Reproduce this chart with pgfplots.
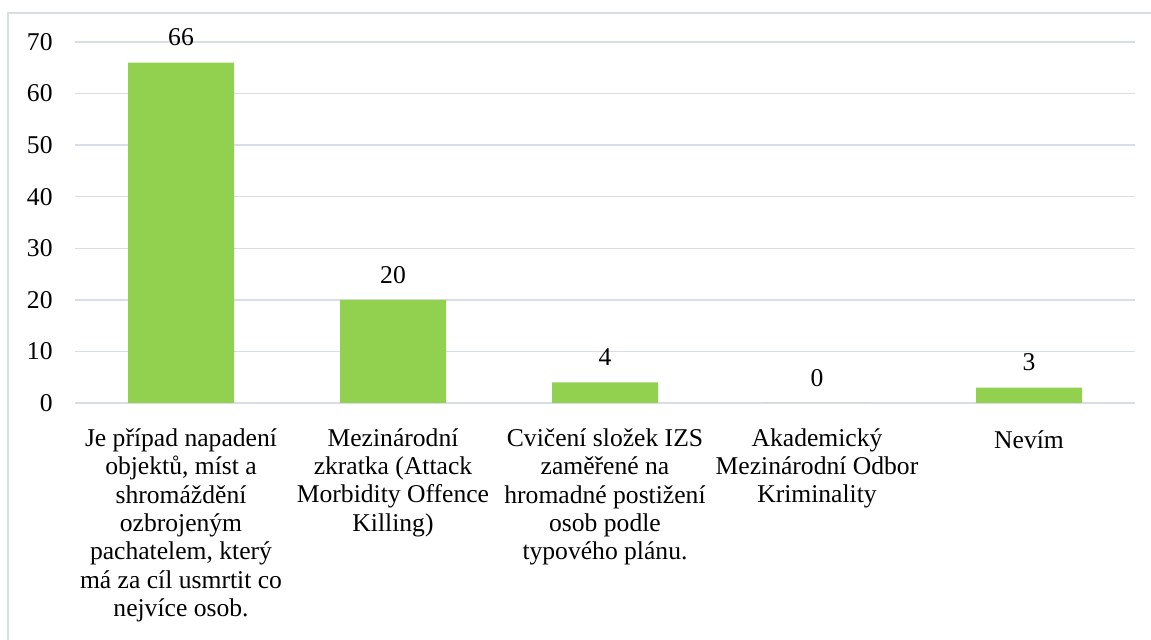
\documentclass[border=0pt]{standalone}
\usepackage{pgfplots}
\pgfplotsset{compat=1.18}
\usepackage{fontspec}
\setmainfont{Liberation Serif}
\definecolor{barg}{RGB}{146,208,80}
\definecolor{gridc}{RGB}{217,221,229}
\definecolor{framec}{RGB}{217,221,229}
\newcommand{\lblfont}{\rmfamily\fontsize{12.8}{14.2}\selectfont}
\begin{document}
\begin{tikzpicture}
\useasboundingbox (0,0) rectangle (575.5pt,320pt);
\draw[framec, line width=0.75pt] (575.5pt,313.5pt) -- (4pt,313.5pt) -- (4pt,0pt);
\begin{axis}[
  at={(37.5pt,118.5pt)}, anchor=south west,
  scale only axis, width=530pt, height=180.5pt,
  xmin=-0.5, xmax=4.5, ymin=0, ymax=70,
  ytick={0,10,20,30,40,50,60,70},
  yticklabels={0,10,20,30,40,50,60,70},
  xtick=data,
  xticklabels={
    {Je případ napadení\\objektů, míst a\\shromáždění\\ozbrojeným\\pachatelem, který\\má za cíl usmrtit co\\nejvíce osob.},
    {Mezinárodní\\zkratka (Attack\\Morbidity Offence\\Killing)},
    {Cvičení složek IZS\\zaměřené na\\hromadné postižení\\osob podle\\typového plánu.},
    {Akademický\\Mezinárodní Odbor\\Kriminality},
    {Nevím}},
  axis line style={draw=none},
  major tick length=0pt,
  ymajorgrids, grid style={gridc, line width=0.75pt},
  ticklabel style={font=\lblfont, text=black},
  yticklabel style={inner sep=0pt, anchor=east, xshift=-11pt},
  xticklabel style={inner sep=0pt, anchor=north, align=center, yshift=-12.5pt, execute at begin node=\strut},
  ybar, bar width=53pt,
  point meta=explicit symbolic,
  nodes near coords,
  nodes near coords style={font=\lblfont, text=black, anchor=south, inner sep=0pt, yshift=8pt},
  clip=false,
]
\addplot[fill=barg, draw=none] coordinates {(0,66) [66] (1,20) [20] (2,4) [4] (3,0) [0] (4,3) [3]};
\end{axis}
\end{tikzpicture}
\end{document}
